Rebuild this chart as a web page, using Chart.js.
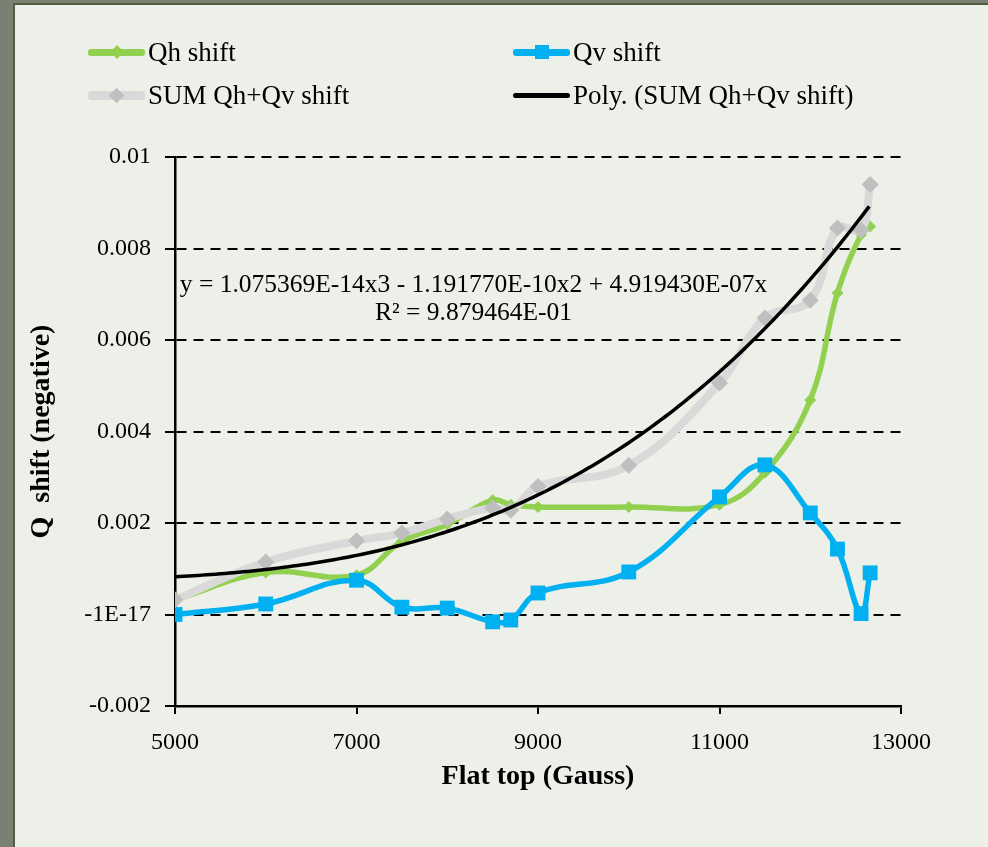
<!DOCTYPE html>
<html>
<head>
<meta charset="utf-8">
<title>Q shift vs flat top</title>
<script src="https://cdn.jsdelivr.net/npm/chart.js@4.4.1/dist/chart.umd.min.js"></script>
<style>
  html, body { margin: 0; padding: 0; }
  body { width: 988px; height: 847px; background: #7b8072; position: relative; overflow: hidden; font-family: "Liberation Serif", serif; }
  #panel { position: absolute; left: 13px; top: 3px; right: 0; bottom: 0; background: #edf0e9; border-left: 2px solid #4f5f3f; border-top: 2px solid #4f5f3f; }
  #qChart { position: absolute; left: 0; top: 0; }
  .leg { position: absolute; height: 30px; display: flex; align-items: center; font-size: 27px; color: #000; }
  .sym { position: relative; width: 57px; height: 30px; margin-right: 3px; }
  .sym .ln { position: absolute; left: 0; right: 0; top: 50%; border-radius: 3px; }
  .sym .mk { position: absolute; left: 50%; top: 50%; }
</style>
</head>
<body>
<div id="panel"></div>
<canvas id="qChart" width="988" height="847"></canvas>
<div id="legend"></div>
<script>
// flat top field (Gauss)
const flatTop = [5000, 6000, 7000, 7500, 8000, 8500, 8700, 9000, 10000, 11000, 11500, 12000, 12300, 12560, 12660];

const qhShift  = [0.00032, 0.00092, 0.00086, 0.0016, 0.00197, 0.0025, 0.0024, 0.00235, 0.00235, 0.0024, 0.0031, 0.00469, 0.00703, 0.0083, 0.00848];
const qvShift  = [0, 0.00023, 0.00075, 0.00016, 0.00014, -0.00016, -0.00012, 0.00047, 0.00093, 0.00257, 0.00327, 0.00222, 0.00143, 0.00002, 0.00091];
const sumShift = [0.00032, 0.00115, 0.00161, 0.00178, 0.00209, 0.00233, 0.00228, 0.0028, 0.00326, 0.00506, 0.00648, 0.00687, 0.00845, 0.0084, 0.0094];

// poly trendline coefficients as printed on the chart (x^3, x^2, x, const)
const polyCoef = [1.075369e-14, -1.191770e-10, 4.919430e-07, 0];
const polyLabel = ['y = 1.075369E-14x3 - 1.191770E-10x2 + 4.919430E-07x', 'R² = 9.879464E-01'];

const seriesNames = ['Qh shift', 'Qv shift', 'SUM Qh+Qv shift', 'Poly. (SUM Qh+Qv shift)'];
const xTickLabels = ['5000', '7000', '9000', '11000', '13000'];
const yTickLabels = ['-0.002', '-1E-17', '0.002', '0.004', '0.006', '0.008', '0.01'];

const xMin = 5000, xMax = 13000, xStep = 2000;
const yMin = -0.002, yMax = 0.01, yStep = 0.002;

function pts(xs, ys) {
  return xs.map((x, i) => ({ x: x, y: ys[i] }));
}

// trendline points sampled along the fitted range
const trendPts = [];
for (let x = flatTop[0]; x <= flatTop[flatTop.length - 1]; x += 50) {
  trendPts.push({ x: x, y: polyCoef[0] * x * x * x + polyCoef[1] * x * x + polyCoef[2] * x + polyCoef[3] });
}

const serif = '"Liberation Serif", serif';

// equation label
const eqnPlugin = {
  id: 'eqn',
  afterDatasetsDraw(chart) {
    const ctx = chart.ctx;
    const xs = chart.scales.x, ys = chart.scales.y;
    ctx.save();
    ctx.font = '25.5px ' + serif;
    ctx.fillStyle = '#000';
    ctx.textAlign = 'center';
    ctx.textBaseline = 'middle';
    ctx.fillText(polyLabel[0], xs.getPixelForValue(8290), ys.getPixelForValue(0.0072));
    ctx.fillText(polyLabel[1], xs.getPixelForValue(8290), ys.getPixelForValue(0.00659));
    ctx.restore();
  }
};

const qChart = new Chart(document.getElementById('qChart'), {
  type: 'scatter',
  data: {
    datasets: [
      { label: seriesNames[0], data: pts(flatTop, qhShift), showLine: true, tension: 0.4,
        borderColor: '#92d050', borderWidth: 5.5, pointStyle: 'rectRot', pointRadius: 6,
        pointBackgroundColor: '#92d050', pointBorderColor: '#92d050', pointBorderWidth: 0, order: 3 },
      { label: seriesNames[1], data: pts(flatTop, qvShift), showLine: true, tension: 0.4,
        borderColor: '#00b0f0', borderWidth: 5.5, pointStyle: 'rect', pointRadius: 10.5,
        pointBackgroundColor: '#00b0f0', pointBorderColor: '#00b0f0', pointBorderWidth: 0, order: 2 },
      { label: seriesNames[2], data: pts(flatTop, sumShift), showLine: true, tension: 0.4,
        borderColor: '#d9d9d9', borderWidth: 8, pointStyle: 'rectRot', pointRadius: 8.5,
        pointBackgroundColor: '#bfbfbf', pointBorderColor: '#bfbfbf', pointBorderWidth: 0, order: 1 },
      { label: seriesNames[3], data: trendPts, showLine: true, tension: 0,
        borderColor: '#000000', borderWidth: 3.5, pointRadius: 0, order: 0 }
    ]
  },
  options: {
    responsive: false,
    animation: false,
    events: [],
    layout: { padding: { left: 0, top: 157, right: 87, bottom: 51 } },
    plugins: { legend: { display: false }, tooltip: { enabled: false } },
    scales: {
      x: {
        type: 'linear', min: xMin, max: xMax,
        ticks: { stepSize: xStep, color: '#000', padding: 14, font: { family: serif, size: 24 },
          callback: v => xTickLabels[Math.round((v - xMin) / xStep)] },
        grid: { drawOnChartArea: false, drawTicks: true, tickLength: 8, color: '#000', lineWidth: 2, tickBorderDash: [] },
        border: { color: '#000', width: 2.5 },
        title: { display: true, text: 'Flat top (Gauss)', color: '#000',
          font: { family: serif, size: 28, weight: 'bold' }, padding: { top: 0, bottom: 2 } },
        afterFit: s => { s.height = 90; }
      },
      y: {
        min: yMin, max: yMax,
        ticks: { stepSize: yStep, color: '#000', padding: 14, font: { family: serif, size: 24 },
          callback: v => yTickLabels[Math.round((v - yMin) / yStep)] },
        grid: { color: '#000', lineWidth: 2, tickLength: 10, tickBorderDash: [] },
        border: { color: '#000', width: 2.5, dash: [10, 7] },
        title: { display: true, text: 'Q  shift (negative)', color: '#000',
          font: { family: serif, size: 28, weight: 'bold' }, padding: { top: 25, bottom: 0 } },
        afterFit: s => { s.width = 175; }
      }
    }
  },
  plugins: [eqnPlugin]
});

// HTML legend, two columns
const legendPos = [[88, 37], [513, 37], [88, 80], [513, 80]];
const legendMark = [
  { w: 10, bg: '#92d050', rot: true },
  { w: 14, bg: '#00b0f0', rot: false },
  { w: 11, bg: '#bfbfbf', rot: true },
  null
];
const legendBox = document.getElementById('legend');
qChart.data.datasets.forEach((ds, i) => {
  const item = document.createElement('div');
  item.className = 'leg';
  item.style.left = legendPos[i][0] + 'px';
  item.style.top = legendPos[i][1] + 'px';
  const sym = document.createElement('div');
  sym.className = 'sym';
  const ln = document.createElement('div');
  ln.className = 'ln';
  const lw = Math.round(ds.borderWidth) + 1;
  ln.style.height = lw + 'px';
  ln.style.marginTop = (-lw / 2) + 'px';
  ln.style.background = ds.borderColor;
  sym.appendChild(ln);
  const m = legendMark[i];
  if (m) {
    const mk = document.createElement('div');
    mk.className = 'mk';
    mk.style.width = m.w + 'px';
    mk.style.height = m.w + 'px';
    mk.style.marginLeft = (-m.w / 2) + 'px';
    mk.style.marginTop = (-m.w / 2) + 'px';
    mk.style.background = m.bg;
    if (m.rot) mk.style.transform = 'rotate(45deg)';
    sym.appendChild(mk);
  }
  item.appendChild(sym);
  const tx = document.createElement('span');
  tx.textContent = ds.label;
  item.appendChild(tx);
  legendBox.appendChild(item);
});
</script>
</body>
</html>
